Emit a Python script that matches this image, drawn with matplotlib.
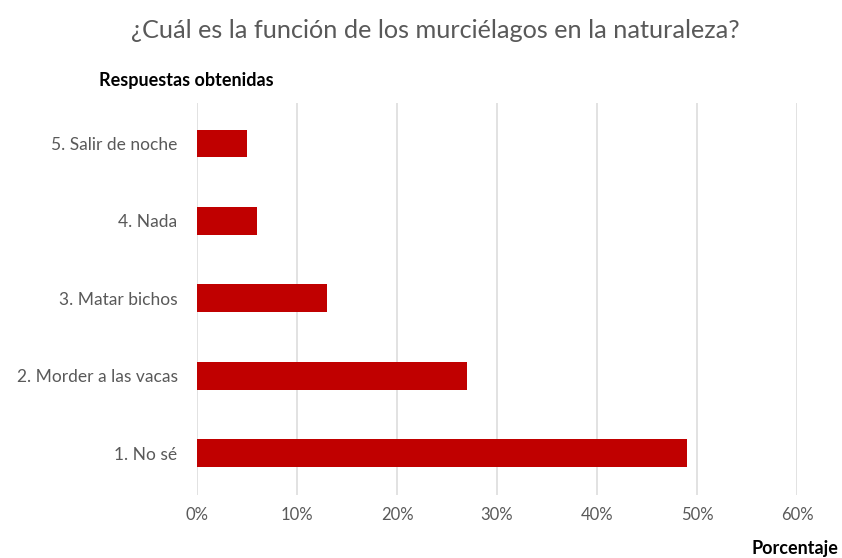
import matplotlib.pyplot as plt
from matplotlib.ticker import FuncFormatter

categorias = ["1. No sé", "2. Morder a las vacas", "3. Matar bichos", "4. Nada", "5. Salir de noche"]
porcentajes = [49, 27, 13, 6, 5]
ticks_x = [0, 10, 20, 30, 40, 50, 60]

plt.rcParams["font.family"] = ["Lato", "DejaVu Sans"]

fig = plt.figure(figsize=(8.42, 5.58), dpi=100)
ax = fig.add_axes([0.234, 0.113, 0.7126, 0.702])

ax.barh(range(len(categorias)), porcentajes, height=0.36, color="#C00000", zorder=3)
ax.set_yticks(range(len(categorias)))
ax.set_yticklabels(categorias)
ax.set_xticks(ticks_x)
ax.xaxis.set_major_formatter(FuncFormatter(lambda v, p: f"{v:.0f}%"))
ax.set_xlim(0, 60)
ax.set_ylim(-0.54, 4.52)

ax.grid(axis="x", color="#dddddd", linewidth=1.2, zorder=0)
for s in ax.spines.values():
    s.set_visible(False)
ax.tick_params(axis="both", length=0, colors="#595959", labelsize=12.5)
ax.tick_params(axis="x", labelsize=12)
ax.tick_params(axis="y", pad=14)
ax.tick_params(axis="x", pad=9)

fig.text(0.517, 0.946, "¿Cuál es la función de los murciélagos en la naturaleza?",
         ha="center", va="center", fontsize=18.2, color="#595959")
fig.text(0.118, 0.856, "Respuestas obtenidas", ha="left", va="center",
         fontsize=13, fontweight="bold", color="black")
fig.text(0.996, 0.017, "Porcentaje", ha="right", va="center",
         fontsize=13, fontweight="bold", color="black")

fig.savefig("out.png", dpi=100)
